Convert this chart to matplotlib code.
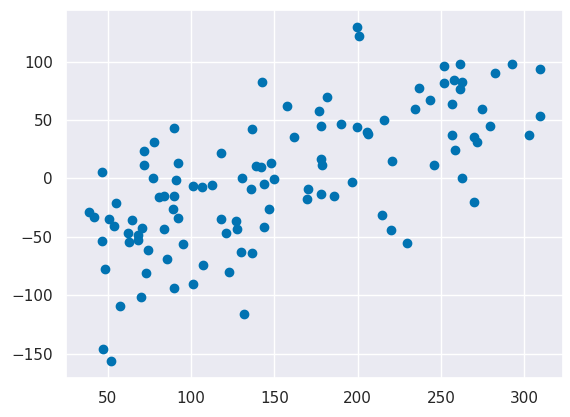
import numpy as np
import matplotlib
matplotlib.use("Agg")
import matplotlib.pyplot as plt
import seaborn as sns

# values
x = [46.8, 71.6, 92.1, 77.0, 90.9, 101.5, 80.6, 83.7, 89.7, 54.8,
     38.6, 41.6, 50.8, 53.6, 64.8, 89.1, 92.1, 70.9, 83.7, 62.4,
     68.4, 62.9, 68.0, 46.8, 74.0, 95.1, 85.9, 48.6, 72.8, 89.7,
     101.1, 69.8, 57.6, 47.4, 51.8, 89.7, 77.6, 71.6,
     142.5, 157.6, 136.4, 161.8, 117.9, 138.8, 141.8, 147.8,
     130.5, 149.8, 143.8, 136.0, 106.9, 112.5, 170.4, 169.6, 146.8, 117.9,
     126.9, 127.5, 120.9, 143.8, 130.3, 136.4, 107.1, 122.7, 131.6,
     199.6, 200.8, 236.7, 243.2, 181.6, 176.8, 234.5, 178.0, 190.0, 199.6,
     205.6, 205.9, 215.9, 178.0, 178.6, 220.5, 196.6, 178.0, 185.8,
     251.9, 261.5, 292.6, 309.6, 282.6, 251.9, 257.9, 262.7, 261.5, 256.7,
     274.8, 309.6, 279.6, 256.7, 270.0, 271.8, 303.0, 258.5, 245.7, 262.7,
     270.0, 214.7, 220.1, 229.7]
y = [5.1, 11.1, 13.3, 0.3, -1.7, -6.6, -15.9, -15.3, -15.3, -21.3,
     -28.7, -33.2, -35.0, -40.9, -35.8, -26.4, -34.1, -42.6, -43.5, -46.6,
     -48.6, -54.3, -53.2, -53.5, -61.1, -56.3, -68.8, -77.3, -81.0, -93.5,
     -90.1, -101.8, -109.7, -145.8, -156.6, 42.9, 31.5, 23.0,
     82.9, 62.2, 42.0, 35.8, 21.3, 10.5, 9.9, 13.0,
     0.3, -0.6, -4.9, -9.1, -7.7, -6.0, -9.4, -17.9, -26.4, -35.0,
     -36.4, -43.2, -46.6, -41.8, -62.8, -63.9, -74.2, -80.1, -116.5,
     129.8, 121.9, 77.6, 67.3, 69.9, 58.0, 59.7, 45.2, 46.9, 44.3,
     40.1, 38.0, 50.3, 16.7, 11.3, 14.5, -3.4, -13.4, -15.3,
     96.3, 98.3, 98.3, 93.8, 90.4, 81.2, 84.4, 82.1, 76.4, 63.9,
     59.1, 53.1, 45.2, 37.5, 35.2, 30.7, 37.5, 23.9, 11.4, 0.0,
     -20.2, -31.5, -44.3, -55.4]

sns.set_theme(palette="colorblind")

fig = plt.figure(figsize=(5.7, 4.17), dpi=100)
ax = fig.add_axes([66/570, 39/417, 497/570, 368/417])
ax.scatter(x, y)

ax.set_xticks([50, 100, 150, 200, 250, 300])
ax.set_yticks([-150, -100, -50, 0, 50, 100])

fig.savefig("out.png", dpi=100)
